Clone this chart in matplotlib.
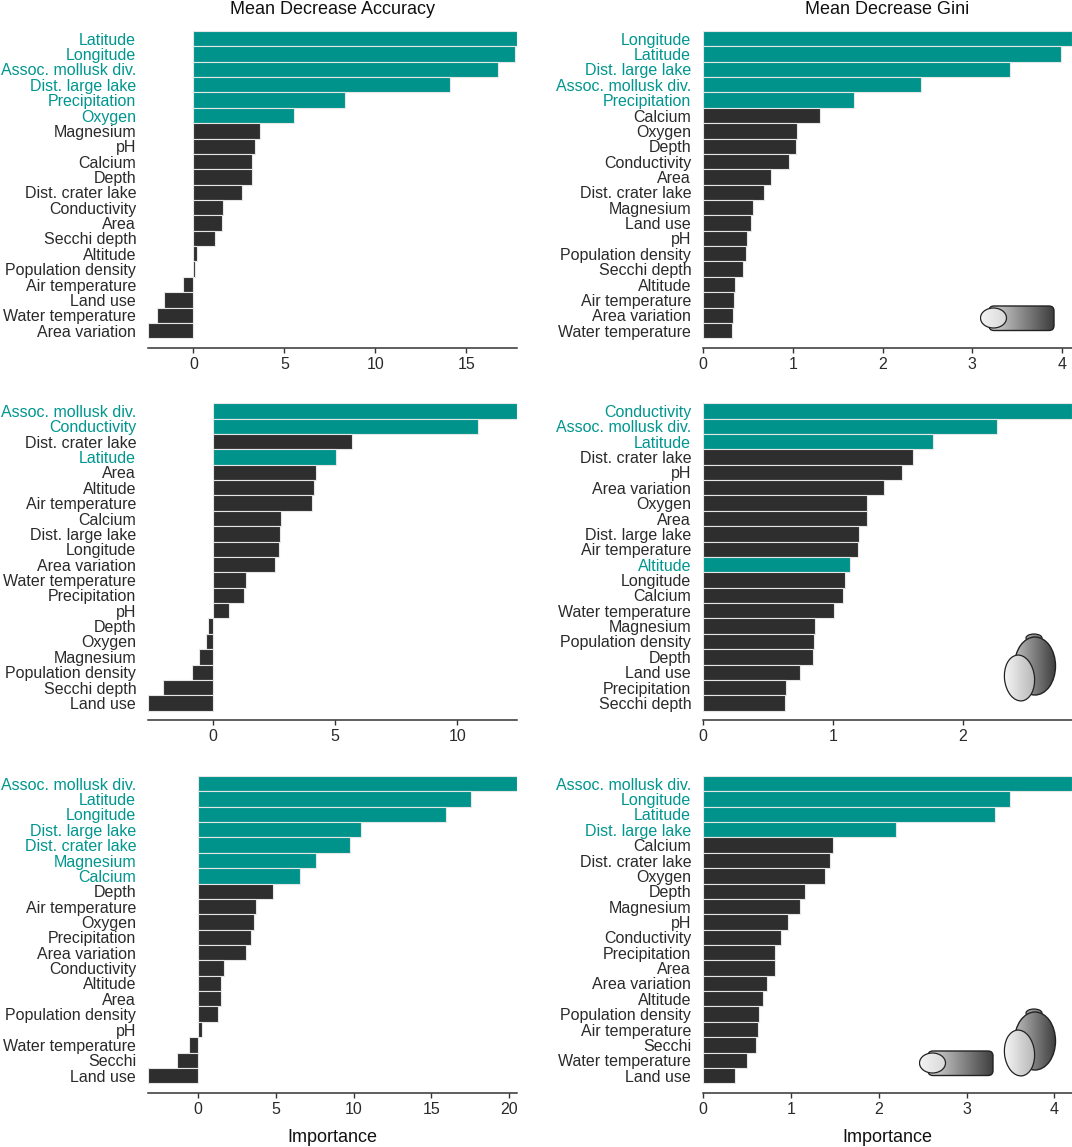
"""
Importancia de variables (random forest) para tres grupos de moluscos:
Mean Decrease Accuracy (izq.) y Mean Decrease Gini (der.).
Las variables significativas van en verde azulado.
"""

import matplotlib
matplotlib.use("Agg")
import matplotlib.pyplot as plt
import numpy as np
from matplotlib.colors import LinearSegmentedColormap
from matplotlib.patches import Ellipse, FancyBboxPatch
from matplotlib.ticker import MultipleLocator

plt.rcParams["font.family"] = ["Liberation Sans", "DejaVu Sans"]

# ---------------------------------------------------------------------------
# Datos
# ---------------------------------------------------------------------------

acc1_labels = ["Latitude", "Longitude", "Assoc. mollusk div.", "Dist. large lake",
               "Precipitation", "Oxygen", "Magnesium", "pH", "Calcium", "Depth",
               "Dist. crater lake", "Conductivity", "Area", "Secchi depth", "Altitude",
               "Population density", "Air temperature", "Land use",
               "Water temperature", "Area variation"]
acc1_values = [17.78, 17.65, 16.73, 14.12, 8.35, 5.55, 3.68, 3.36, 3.23, 3.21,
               2.69, 1.64, 1.54, 1.17, 0.21, 0.08, -0.55, -1.62, -2.01, -2.50]
acc1_signif = ["Latitude", "Longitude", "Assoc. mollusk div.", "Dist. large lake",
               "Precipitation", "Oxygen"]

gini1_labels = ["Longitude", "Latitude", "Dist. large lake", "Assoc. mollusk div.",
                "Precipitation", "Calcium", "Oxygen", "Depth", "Conductivity", "Area",
                "Dist. crater lake", "Magnesium", "Land use", "pH", "Population density",
                "Secchi depth", "Altitude", "Air temperature", "Area variation",
                "Water temperature"]
gini1_values = [4.11, 3.99, 3.42, 2.43, 1.685, 1.30, 1.05, 1.04, 0.957, 0.755,
                0.675, 0.56, 0.534, 0.488, 0.48, 0.45, 0.355, 0.343, 0.335, 0.324]
gini1_signif = ["Longitude", "Latitude", "Dist. large lake", "Assoc. mollusk div.",
                "Precipitation"]

acc2_labels = ["Assoc. mollusk div.", "Conductivity", "Dist. crater lake", "Latitude",
               "Area", "Altitude", "Air temperature", "Calcium", "Dist. large lake",
               "Longitude", "Area variation", "Water temperature", "Precipitation",
               "pH", "Depth", "Oxygen", "Magnesium", "Population density",
               "Secchi depth", "Land use"]
acc2_values = [12.45, 10.84, 5.71, 5.03, 4.23, 4.12, 4.05, 2.77, 2.76, 2.69,
               2.56, 1.37, 1.29, 0.67, -0.21, -0.28, -0.56, -0.87, -2.03, -2.66]
acc2_signif = ["Assoc. mollusk div.", "Conductivity", "Latitude"]

gini2_labels = ["Conductivity", "Assoc. mollusk div.", "Latitude", "Dist. crater lake",
                "pH", "Area variation", "Oxygen", "Area", "Dist. large lake",
                "Air temperature", "Altitude", "Longitude", "Calcium",
                "Water temperature", "Magnesium", "Population density", "Depth",
                "Land use", "Precipitation", "Secchi depth"]
gini2_values = [2.84, 2.26, 1.77, 1.62, 1.53, 1.39, 1.265, 1.26, 1.20, 1.19,
                1.13, 1.09, 1.08, 1.01, 0.86, 0.855, 0.85, 0.75, 0.64, 0.63]
gini2_signif = ["Conductivity", "Assoc. mollusk div.", "Latitude", "Altitude"]

acc3_labels = ["Assoc. mollusk div.", "Latitude", "Longitude", "Dist. large lake",
               "Dist. crater lake", "Magnesium", "Calcium", "Depth", "Air temperature",
               "Oxygen", "Precipitation", "Area variation", "Conductivity", "Altitude",
               "Area", "Population density", "pH", "Water temperature", "Secchi",
               "Land use"]
acc3_values = [20.53, 17.56, 15.97, 10.46, 9.78, 7.58, 6.52, 4.82, 3.72, 3.57,
               3.37, 3.08, 1.65, 1.48, 1.47, 1.28, 0.24, -0.59, -1.39, -3.24]
acc3_signif = ["Assoc. mollusk div.", "Latitude", "Longitude", "Dist. large lake",
               "Dist. crater lake", "Magnesium", "Calcium"]

gini3_labels = ["Assoc. mollusk div.", "Longitude", "Latitude", "Dist. large lake",
                "Calcium", "Dist. crater lake", "Oxygen", "Depth", "Magnesium", "pH",
                "Conductivity", "Precipitation", "Area", "Area variation", "Altitude",
                "Population density", "Air temperature", "Secchi",
                "Water temperature", "Land use"]
gini3_values = [4.20, 3.49, 3.32, 2.20, 1.48, 1.45, 1.39, 1.16, 1.105, 0.965,
                0.887, 0.825, 0.817, 0.728, 0.685, 0.634, 0.626, 0.603, 0.498, 0.362]
gini3_signif = ["Assoc. mollusk div.", "Longitude", "Latitude", "Dist. large lake"]

TEAL = "#00938b"
TEAL_TXT = "#00968f"
DARK = "#2e2e2e"
TXT = "#2a2a2a"

W, H = 1072, 1147


# ---------------------------------------------------------------------------
# Barras
# ---------------------------------------------------------------------------


def _barplot(ax, labels, values, signif, step):
    y = np.arange(len(labels))
    colors = [TEAL if lab in signif else DARK for lab in labels]
    ax.barh(y, values, height=1.0, color=colors, edgecolor="#e6e6e6", linewidth=0.8)

    lo = min(0.0, min(values))
    ax.set_xlim(lo, max(values))
    ax.set_ylim(len(labels) - 0.5 + 0.61, -0.5)

    ax.set_yticks(y)
    ax.set_yticklabels(labels, fontsize=11.5)
    for tl, lab in zip(ax.get_yticklabels(), labels):
        tl.set_color(TEAL_TXT if lab in signif else TXT)
    ax.tick_params(axis="y", length=0, pad=8.5)

    ax.xaxis.set_major_locator(MultipleLocator(step))
    ax.tick_params(axis="x", length=3.5, width=1.0, pad=3, labelsize=11.5,
                   color="#333333", labelcolor=TXT)
    for s in ("top", "right", "left"):
        ax.spines[s].set_visible(False)
    ax.spines["bottom"].set_color("#333333")
    ax.spines["bottom"].set_linewidth(1.1)


# ---------------------------------------------------------------------------
# Dibujos de conchas (decorativos)
# ---------------------------------------------------------------------------


def _icon_axes(fig, x0, y0, w, h):
    ax = fig.add_axes([x0 / W, 1 - (y0 + h) / H, w / W, h / H])
    ax.set_xlim(0, w)
    ax.set_ylim(0, h)
    ax.axis("off")
    return ax


def _fill_gradient(ax, patch, c0, c1, w, h, z):
    cmap = LinearSegmentedColormap.from_list("g", [c0, c1])
    ax.add_patch(patch)
    grad = np.linspace(0, 1, 128).reshape(1, -1)
    im = ax.imshow(grad, extent=(0, w, 0, h), cmap=cmap, aspect="auto",
                   zorder=z, origin="lower")
    im.set_clip_path(patch)
    patch.set_zorder(z + 0.1)
    patch.set_facecolor("none")


def _shell_long(fig, x0, y0, w=76, h=28):
    ax = _icon_axes(fig, x0, y0, w, h)
    body = FancyBboxPatch((9, 1.5), w - 11, h - 3.5,
                          boxstyle="round,pad=0,rounding_size=5",
                          edgecolor="#222222", linewidth=1.0)
    _fill_gradient(ax, body, "#f0f0f0", "#383838", w, h, 1)
    lobe = Ellipse((13.5, 14), 26, 20, edgecolor="#222222", linewidth=0.9)
    _fill_gradient(ax, lobe, "#f4f4f4", "#a5a5a5", w, h, 3)


def _shell_round(fig, x0, y0, w=54, h=70):
    ax = _icon_axes(fig, x0, y0, w, h)
    spire = Ellipse((31, 65), 16, 8, edgecolor="#222222", linewidth=0.9)
    _fill_gradient(ax, spire, "#dddddd", "#555555", w, h, 1)
    body = Ellipse((32, 37), 41, 58, edgecolor="#222222", linewidth=1.0)
    _fill_gradient(ax, body, "#e0e0e0", "#3a3a3a", w, h, 3)
    ap = Ellipse((16.5, 25), 30, 46, angle=6, edgecolor="#222222", linewidth=0.9)
    _fill_gradient(ax, ap, "#f7f7f7", "#8a8a8a", w, h, 5)


# ---------------------------------------------------------------------------
# Figura
# ---------------------------------------------------------------------------


def main() -> None:
    fig = plt.figure(figsize=(W / 100, H / 100), dpi=100)

    left_x, right_x, ax_w = 148, 703, 369
    rows_top = [31, 403.3, 776]
    ax_h = 316.7

    panels = [
        (acc1_labels, acc1_values, acc1_signif, 5),
        (gini1_labels, gini1_values, gini1_signif, 1),
        (acc2_labels, acc2_values, acc2_signif, 5),
        (gini2_labels, gini2_values, gini2_signif, 1),
        (acc3_labels, acc3_values, acc3_signif, 5),
        (gini3_labels, gini3_values, gini3_signif, 1),
    ]

    for i, (labels, values, signif, step) in enumerate(panels):
        row, col = divmod(i, 2)
        x0 = left_x if col == 0 else right_x
        top = rows_top[row]
        ax = fig.add_axes([x0 / W, 1 - (top + ax_h) / H, ax_w / W, ax_h / H])
        _barplot(ax, labels, values, signif, step)

    cx_left = (left_x + ax_w / 2) / W
    cx_right = (right_x + ax_w / 2) / W
    for cx, title in ((cx_left, "Mean Decrease Accuracy"), (cx_right, "Mean Decrease Gini")):
        fig.text(cx, 1 - 10 / H, title, ha="center", va="center",
                 fontsize=13, color="#111111")
        fig.text(cx, 1 - 1137 / H, "Importance", ha="center", va="center",
                 fontsize=13, color="#111111")

    _shell_long(fig, 980, 304)
    _shell_round(fig, 1003, 633)
    _shell_long(fig, 919, 1049)
    _shell_round(fig, 1003, 1008)

    fig.savefig("out.png", dpi=100)
    plt.close(fig)


if __name__ == "__main__":
    main()
